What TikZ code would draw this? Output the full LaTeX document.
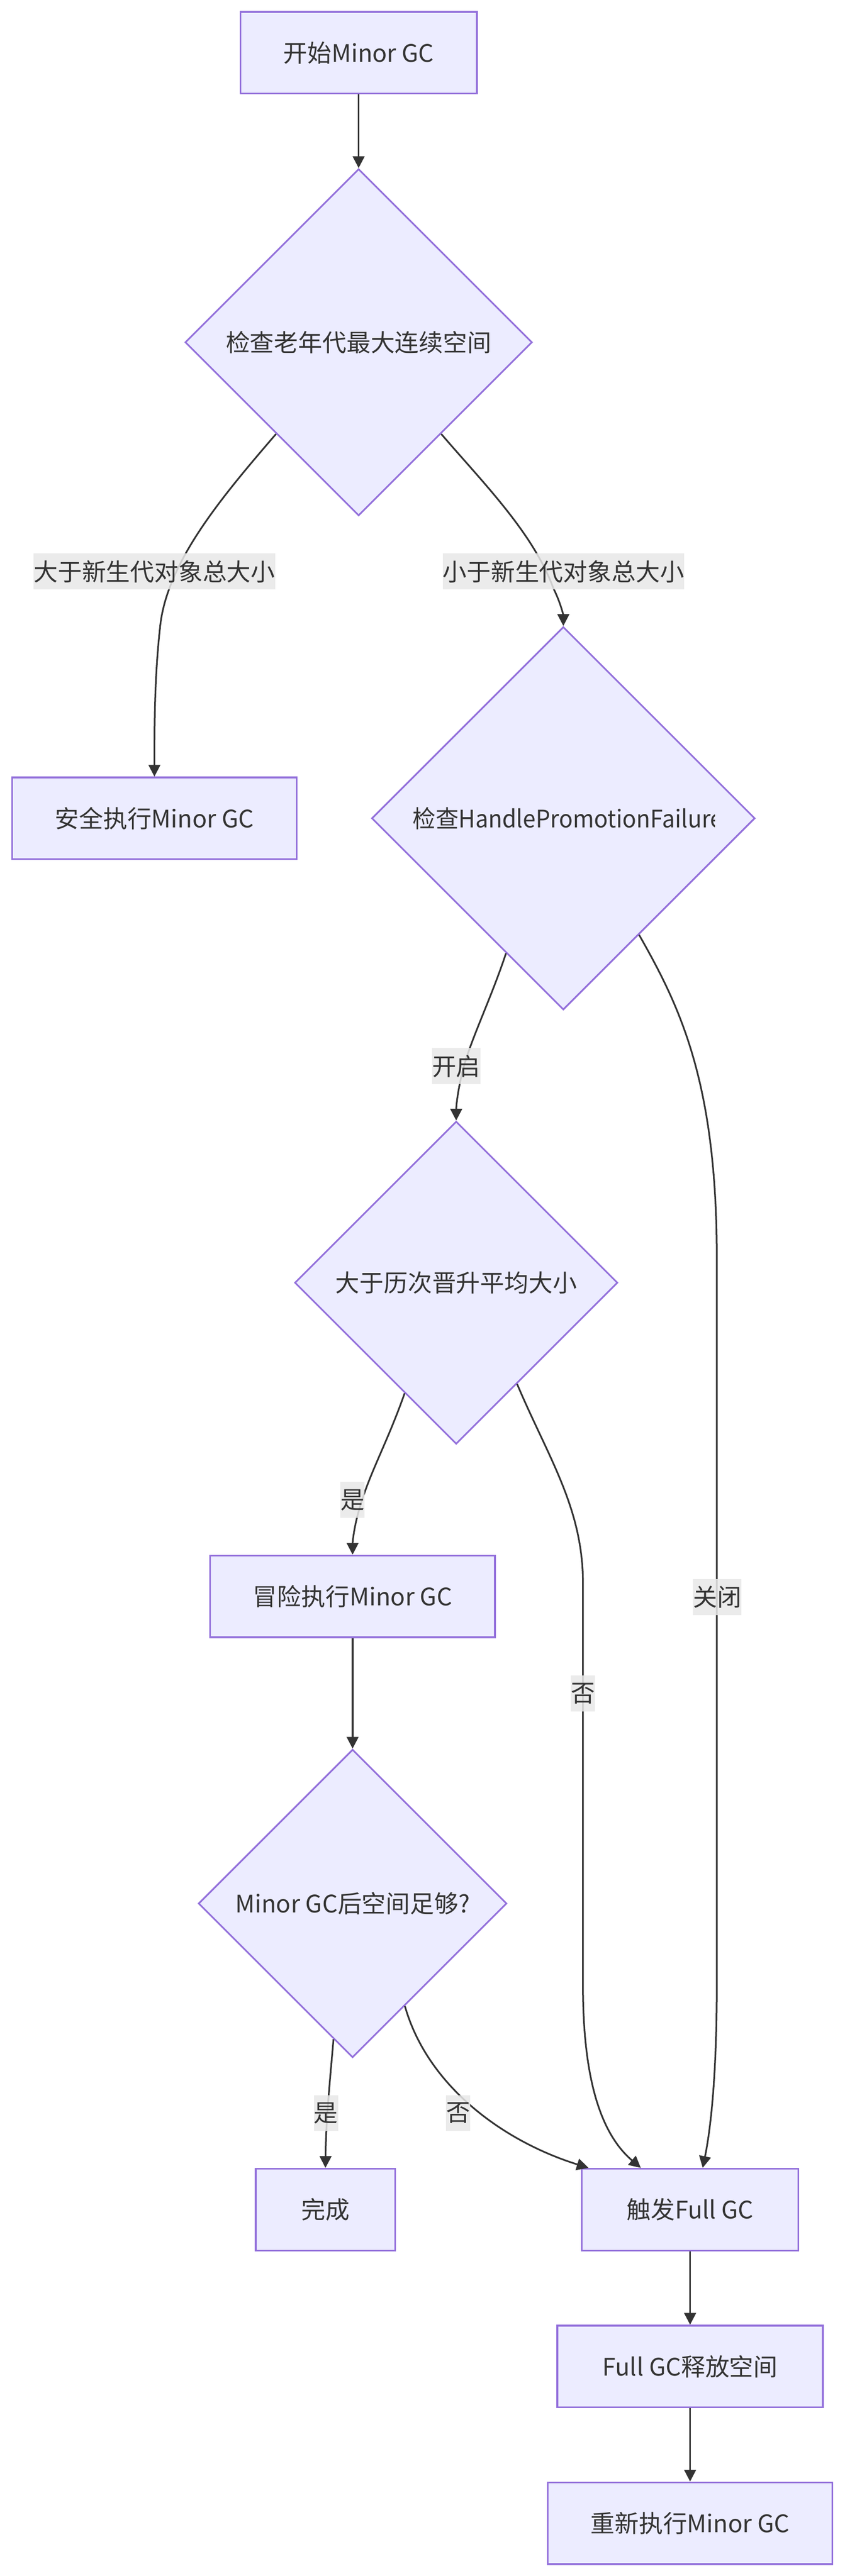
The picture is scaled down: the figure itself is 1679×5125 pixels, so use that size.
\documentclass[tikz,border=0pt]{standalone}
\usepackage{fontspec}
\setmainfont{Noto Sans CJK SC}
\usetikzlibrary{shapes.geometric,arrows.meta,calc}
\definecolor{nodefill}{HTML}{ECECFF}
\definecolor{nodeline}{HTML}{9370DB}
\definecolor{edgecol}{HTML}{333333}
\definecolor{lblbg}{HTML}{E8E8E8}
\newcommand{\dfont}{\fontsize{14.4pt}{17pt}\selectfont}
\begin{document}
\begin{tikzpicture}[x=0.3pt,y=-0.3pt,
  box/.style={draw=nodeline,fill=nodefill,line width=1pt,minimum height=48.8pt,inner sep=0pt,text=edgecol,font=\dfont},
  dec/.style={draw=nodeline,fill=nodefill,line width=1pt,diamond,inner sep=0pt,aspect=1},
  dtext/.style={text=edgecol,font=\dfont,inner sep=0pt},
  lbl/.style={fill=lblbg,fill opacity=0.85,text opacity=1,text=edgecol,font=\dfont,inner xsep=0pt,inner ysep=0pt,minimum height=21.5pt},
  flow/.style={draw=edgecol,line width=1pt,-{Triangle[length=7pt,width=7pt]}}
]
\useasboundingbox (0,0) rectangle (1679,5125);
\fill[white] (0,0) rectangle (1679,5125);

% nodes
\node[box,minimum width=141pt] (start) at (713,105) {开始Minor GC};
\node[dec,minimum width=207pt,minimum height=207pt] (d1) at (713,681) {};
\node[dtext] (t1) at (713,681) {检查老年代最大连续空间};
\node[box,minimum width=169.8pt] (safe) at (307,1628) {安全执行Minor GC};
\node[dec,minimum width=228.6pt,minimum height=228.6pt] (d2) at (1120,1628) {};
\begin{scope}
  \clip (820,1540) rectangle (1421,1716);
  \node[dtext,anchor=west] (t2) at (820,1628) {\scalebox{0.95}[1]{检查HandlePromotionFailure}};
\end{scope}
\node[dec,minimum width=192.6pt,minimum height=192.6pt] (d3) at (907,2552) {};
\node[dtext] (t3) at (907,2552) {大于历次晋升平均大小};
\node[box,minimum width=169.8pt] (risk) at (701,3176) {冒险执行Minor GC};
\node[dec,minimum width=183.9pt,minimum height=183.9pt] (d4) at (701,3787) {};
\node[dtext] (t4) at (701,3787) {Minor GC后空间足够?};
\node[box,minimum width=83.1pt] (done) at (647,4396) {完成};
\node[box,minimum width=129.3pt] (fgc) at (1372,4396) {触发Full GC};
\node[box,minimum width=158.4pt] (rel) at (1372,4708) {Full GC释放空间};
\node[box,minimum width=169.8pt] (rerun) at (1372,5020) {重新执行Minor GC};

% edges
\draw[flow] (start.south) -- (d1.north);
\draw[flow] (d1.228.5) .. controls (440,990) and (330,1120) .. (318,1250)
   .. controls (307,1350) and (307,1450) .. (safe.north);
\draw[flow] (d1.-48) .. controls (960,960) and (1060,1060) .. (1100,1170)
   .. controls (1115,1200) and (1120,1225) .. (d2.north);
\draw[flow] (d2.247) .. controls (975,1990) and (935,2070) .. (920,2130)
   .. controls (910,2170) and (907,2200) .. (d3.north);
\draw[flow] (d2.-57.8) .. controls (1350,2000) and (1425,2150) .. (1425,2500)
   -- (1425,3950) .. controls (1425,4150) and (1410,4250) .. ($(fgc.north)+(25,0)$);
\draw[flow] (d3.245.1) .. controls (770,2870) and (735,2930) .. (715,3000)
   .. controls (703,3040) and (701,3070) .. (risk.north);
\draw[flow] (d3.-59.7) .. controls (1090,2900) and (1159,3000) .. (1159,3150)
   -- (1159,3950) .. controls (1159,4150) and (1200,4250) .. ($(fgc.north)+(-98,0)$);
\draw[flow] (risk.south) -- (d4.north);
\draw[flow] (d4.262.9) .. controls (655,4150) and (648,4220) .. (done.north);
\draw[flow] (d4.-63.1) .. controls (850,4150) and (1000,4260) .. ($(fgc.north)+(-202,0)$);
\draw[flow] (fgc.south) -- (rel.north);
\draw[flow] (rel.south) -- (rerun.north);

% edge labels
\node[lbl] (l1) at (307,1137) {大于新生代对象总大小};
\node[lbl] (l2) at (1120,1137) {小于新生代对象总大小};
\node[lbl] (l3) at (907,2121) {开启};
\node[lbl] (l4) at (1426,3177) {关闭};
\node[lbl] (l5) at (701,2984) {是};
\node[lbl] (l6) at (1159,3369) {否};
\node[lbl] (l7) at (648,4204) {是};
\node[lbl] (l8) at (911,4204) {否};
\end{tikzpicture}
\end{document}
